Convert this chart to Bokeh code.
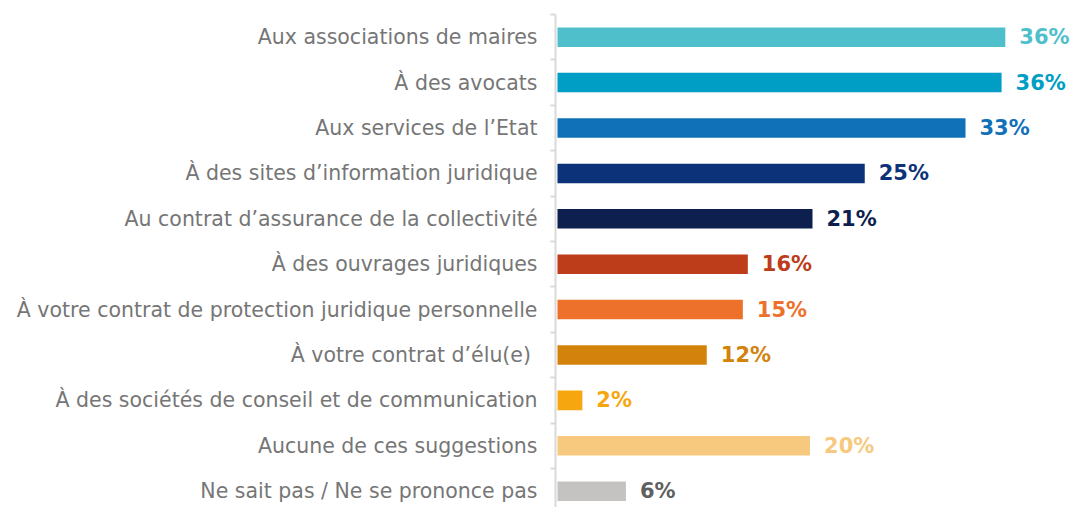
from bokeh.plotting import figure
from bokeh.models import ColumnDataSource, FixedTicker, Range1d
from bokeh.core.properties import value
from bokeh.embed import file_html
from bokeh.resources import INLINE

categories = [
    "Aux associations de maires",
    "À des avocats",
    "Aux services de l’Etat",
    "À des sites d’information juridique",
    "Au contrat d’assurance de la collectivité",
    "À des ouvrages juridiques",
    "À votre contrat de protection juridique personnelle",
    "À votre contrat d’élu(e) ",
    "À des sociétés de conseil et de communication",
    "Aucune de ces suggestions",
    "Ne sait pas / Ne se prononce pas",
]
values = [36.0, 35.7, 32.8, 24.7, 20.5, 15.3, 14.9, 12.0, 2.0, 20.3, 5.5]
labels = ["36%", "36%", "33%", "25%", "21%", "16%", "15%", "12%", "2%", "20%", "6%"]
bar_colors = ["#4fbfcc", "#009dc4", "#1070b8", "#0c337a", "#0c1f4e", "#bd3c1a",
              "#ee712b", "#d3830c", "#f6a710", "#f7c97f", "#c4c3c1"]
label_colors = ["#4fbfcc", "#009dc4", "#1070b8", "#0c337a", "#0c1f4e", "#bd3c1a",
                "#ee712b", "#d3830c", "#f6a710", "#f7c97f", "#5f5f5f"]

n = len(categories)
pos = [n - 1 - i for i in range(n)]

src = ColumnDataSource(dict(y=pos, v=values, lab=labels, bc=bar_colors, lc=label_colors))

p = figure(width=1070, height=507, output_backend="svg", toolbar_location=None,
           x_range=Range1d(-0.16, 41.24), y_range=Range1d(-0.36, n - 0.5),
           x_axis_location=None, min_border_left=555, min_border_top=14,
           min_border_bottom=0, min_border_right=0)
p.outline_line_color = None
p.xgrid.visible = False
p.ygrid.visible = False

p.hbar(y="y", left=0, right="v", height=0.43, fill_color="bc", line_color=None, source=src)
p.text(x="v", y="y", text="lab", x_offset=14, text_baseline="middle", text_align="left",
       text_font=value("DejaVu Sans"), text_font_style="bold", text_font_size="21px",
       text_color="lc", source=src)

ax = p.yaxis[0]
ax.ticker = FixedTicker(ticks=pos, minor_ticks=[k + 0.5 for k in range(-1, n)])
ax.major_label_overrides = {pv: c for pv, c in zip(pos, categories)}
ax.major_label_text_font = "DejaVu Sans"
ax.major_label_text_font_size = "20.5px"
ax.major_label_text_color = "#767676"
ax.major_label_standoff = 13
ax.major_tick_line_color = None
ax.major_tick_out = 5
ax.major_tick_in = 0
ax.minor_tick_out = 5
ax.minor_tick_in = 0
ax.minor_tick_line_color = "#d9d9d9"
ax.minor_tick_line_width = 2
ax.axis_line_color = "#d9d9d9"
ax.axis_line_width = 2

open("out.html", "w").write(file_html(p, INLINE))
